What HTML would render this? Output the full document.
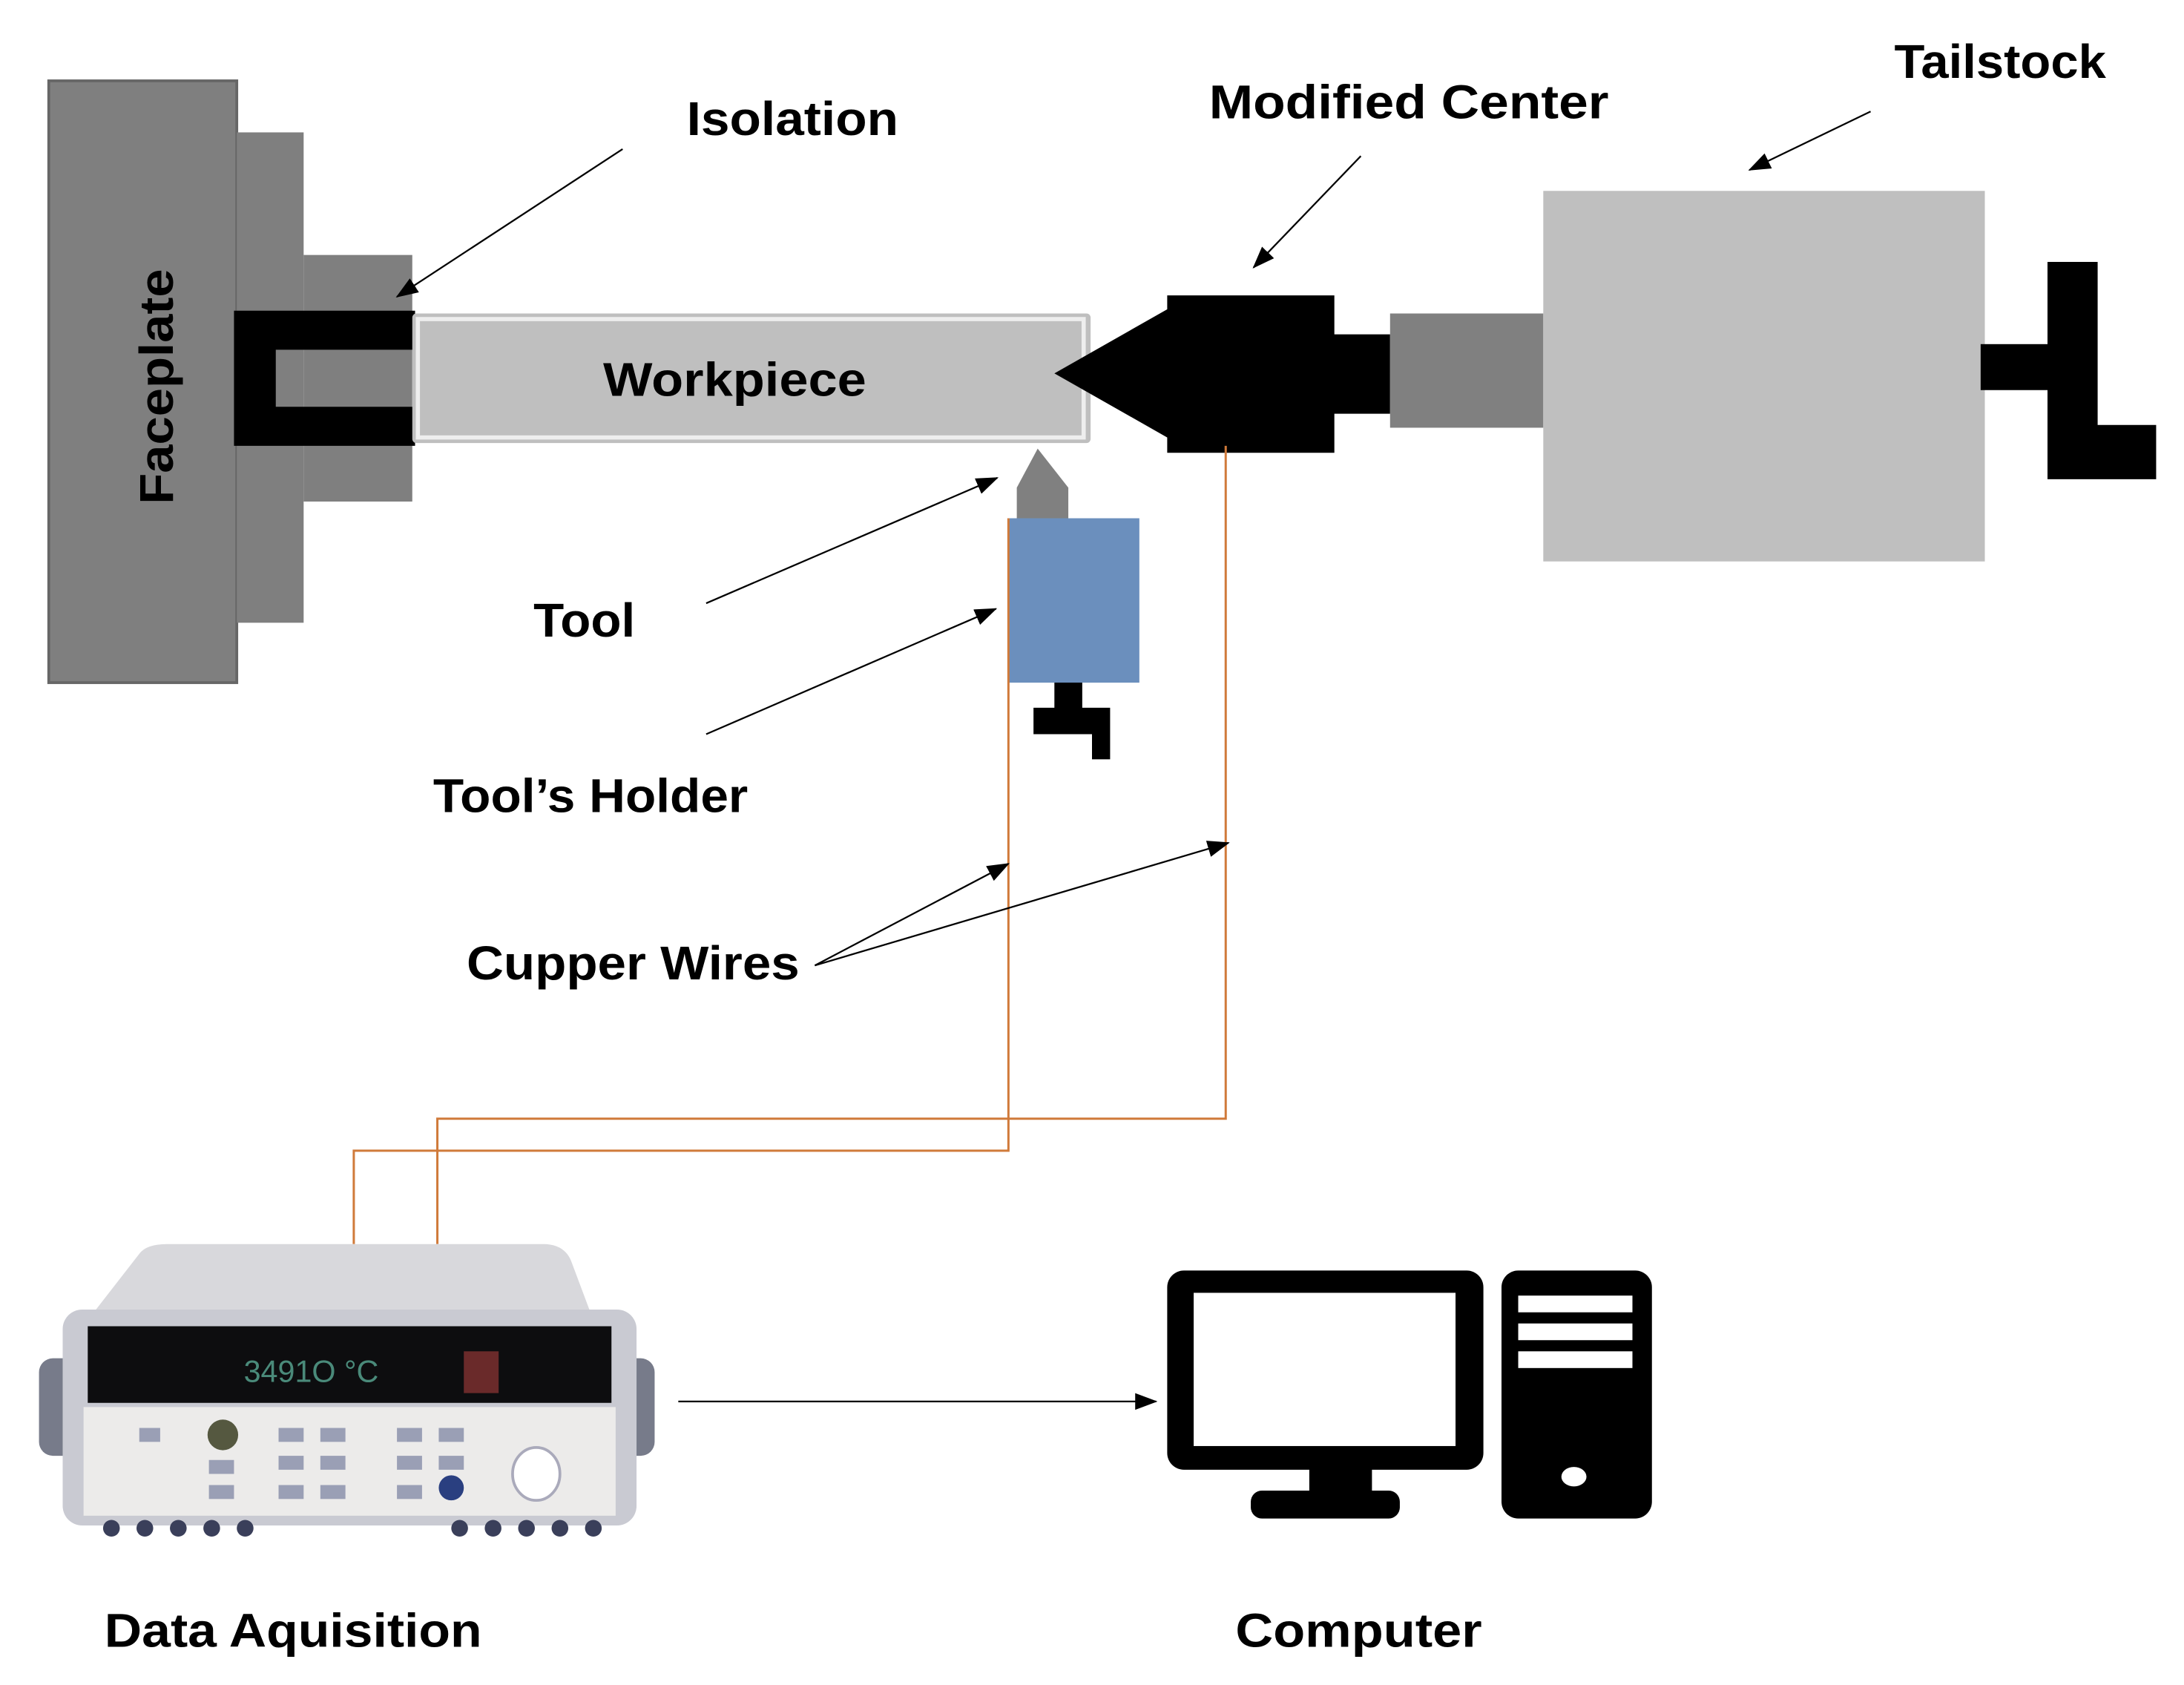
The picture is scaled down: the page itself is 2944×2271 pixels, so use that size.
<!DOCTYPE html>
<html><head><style>html,body{margin:0;padding:0;background:#fff}svg{display:block}
text{font-family:"Liberation Sans",sans-serif;font-weight:bold;fill:#000}</style></head>
<body>
<svg width="2944" height="2271" viewBox="0 0 1568 1209.5" xmlns="http://www.w3.org/2000/svg">
<defs>
<marker id="b" markerWidth="16" markerHeight="12" refX="15" refY="6" orient="auto" markerUnits="userSpaceOnUse" viewBox="0 0 16 12"><path d="M0,0L16,6L0,12z" fill="#000"/></marker></defs>
<rect width="1568" height="1210" fill="#fff"/>
<!-- faceplate -->
<rect x="35" y="58" width="135" height="432" fill="#7f7f7f" stroke="#666" stroke-width="2"/>
<rect x="170" y="95" width="48" height="352" fill="#7f7f7f"/>
<rect x="218" y="183" width="78" height="177" fill="#7f7f7f"/>
<text transform="translate(124,362) rotate(-90)" font-size="34" textLength="169" lengthAdjust="spacingAndGlyphs">Faceplate</text>
<!-- isolation -->
<path d="M168,223H298V251H198V292H298V320H168Z" fill="#000"/>
<!-- workpiece -->
<rect x="296" y="225" width="487" height="93" fill="#bfbfbf" rx="3"/>
<rect x="300" y="229" width="478" height="85" fill="none" stroke="#eee" stroke-width="3"/>
<text x="433" y="284" font-size="34" textLength="189" lengthAdjust="spacingAndGlyphs">Workpiece</text>
<!-- center -->
<path d="M757,268L838,222V212H958V240H998V297H958V325H838V314Z" fill="#000"/>
<rect x="998" y="225" width="110" height="82" fill="#808080"/>
<rect x="1108" y="137" width="317" height="266" fill="#bfbfbf"/>
<rect x="1422" y="247" width="52" height="33" fill="#000"/>
<path d="M1470,188H1506V305H1548V344H1470Z" fill="#000"/>
<!-- tool -->
<path d="M745,322L767,350V372H730V350Z" fill="#808080"/>
<rect x="724" y="372" width="94" height="118" fill="#6b8fbd"/>
<path d="M757,490H777V508H797V545H784V527H742V508H757Z" fill="#000"/>
<!-- wires -->
<g fill="none" stroke="#d07a3a" stroke-width="1.6">
<path d="M724,372V826H254V893"/><path d="M880,320V803H314V893"/></g>
<!-- arrows -->
<g stroke="#000" stroke-width="1.2" fill="none">
<line x1="447" y1="107" x2="285" y2="213" marker-end="url(#b)"/>
<line x1="977" y1="112" x2="900" y2="192" marker-end="url(#b)"/>
<line x1="1343" y1="80" x2="1256" y2="122" marker-end="url(#b)"/>
<line x1="507" y1="433" x2="716" y2="343" marker-end="url(#b)"/>
<line x1="507" y1="527" x2="715" y2="437" marker-end="url(#b)"/>
<line x1="585" y1="693" x2="724" y2="620" marker-end="url(#b)"/>
<line x1="585" y1="693" x2="882" y2="605" marker-end="url(#b)"/>
<line x1="487" y1="1006" x2="830" y2="1006" marker-end="url(#b)"/>
</g>
<text x="493" y="97" font-size="34" textLength="152" lengthAdjust="spacingAndGlyphs">Isolation</text>
<text x="868" y="85" font-size="34" textLength="287" lengthAdjust="spacingAndGlyphs">Modified Center</text>
<text x="1360" y="56" font-size="34" textLength="152" lengthAdjust="spacingAndGlyphs">Tailstock</text>
<text x="383" y="457" font-size="34" textLength="73" lengthAdjust="spacingAndGlyphs">Tool</text>
<text x="311" y="583" font-size="34" textLength="226" lengthAdjust="spacingAndGlyphs">Tool’s Holder</text>
<text x="335" y="703" font-size="34" textLength="239" lengthAdjust="spacingAndGlyphs">Cupper Wires</text>
<text x="75" y="1182" font-size="34" textLength="271" lengthAdjust="spacingAndGlyphs">Data Aquisition</text>
<text x="887" y="1182" font-size="34" textLength="177" lengthAdjust="spacingAndGlyphs">Computer</text>
<!-- computer -->
<rect x="838" y="912" width="227" height="143" rx="12" fill="#000"/>
<rect x="857" y="928" width="188" height="110" fill="#fff"/>
<rect x="940" y="1054" width="45" height="18" fill="#000"/>
<rect x="898" y="1070" width="107" height="20" rx="8" fill="#000"/>
<rect x="1078" y="912" width="108" height="178" rx="12" fill="#000"/>
<rect x="1090" y="930" width="82" height="12" fill="#fff"/>
<rect x="1090" y="950" width="82" height="12" fill="#fff"/>
<rect x="1090" y="970" width="82" height="12" fill="#fff"/>
<ellipse cx="1130" cy="1060" rx="9" ry="7" fill="#fff"/>
<!-- DAQ -->
<path d="M100,900Q105,893 120,893H390Q405,893 410,905L425,945H65Z" fill="#d8d8dc"/>
<rect x="28" y="975" width="30" height="70" rx="10" fill="#777b8a"/>
<rect x="440" y="975" width="30" height="70" rx="10" fill="#777b8a"/>
<rect x="45" y="940" width="412" height="155" rx="14" fill="#c9cad2"/>
<rect x="63" y="952" width="376" height="55" fill="#0d0d0f"/>
<text x="175" y="992" font-size="22" style="fill:#4a8a7a;font-weight:normal">3491O °C</text>
<rect x="333" y="970" width="25" height="30" fill="#6a2a2a"/>
<rect x="60" y="1010" width="382" height="78" fill="#ecebea"/>
<circle cx="160" cy="1030" r="11" fill="#555840"/>
<g fill="#9a9fb5"><rect x="100" y="1025" width="15" height="10"/><rect x="150" y="1048" width="18" height="10"/><rect x="150" y="1066" width="18" height="10"/>
<rect x="200" y="1025" width="18" height="10"/><rect x="230" y="1025" width="18" height="10"/><rect x="200" y="1045" width="18" height="10"/><rect x="230" y="1045" width="18" height="10"/><rect x="200" y="1066" width="18" height="10"/><rect x="230" y="1066" width="18" height="10"/>
<rect x="285" y="1025" width="18" height="10"/><rect x="315" y="1025" width="18" height="10"/><rect x="285" y="1045" width="18" height="10"/><rect x="315" y="1045" width="18" height="10"/><rect x="285" y="1066" width="18" height="10"/></g>
<circle cx="324" cy="1068" r="9" fill="#2a3f80"/>
<ellipse cx="385" cy="1058" rx="17" ry="19" fill="#fff" stroke="#aab" stroke-width="2"/>
<g fill="#3a3f5a"><circle cx="80" cy="1097" r="6"/><circle cx="104" cy="1097" r="6"/><circle cx="128" cy="1097" r="6"/><circle cx="152" cy="1097" r="6"/><circle cx="176" cy="1097" r="6"/>
<circle cx="330" cy="1097" r="6"/><circle cx="354" cy="1097" r="6"/><circle cx="378" cy="1097" r="6"/><circle cx="402" cy="1097" r="6"/><circle cx="426" cy="1097" r="6"/></g>
</svg>
</body></html>
